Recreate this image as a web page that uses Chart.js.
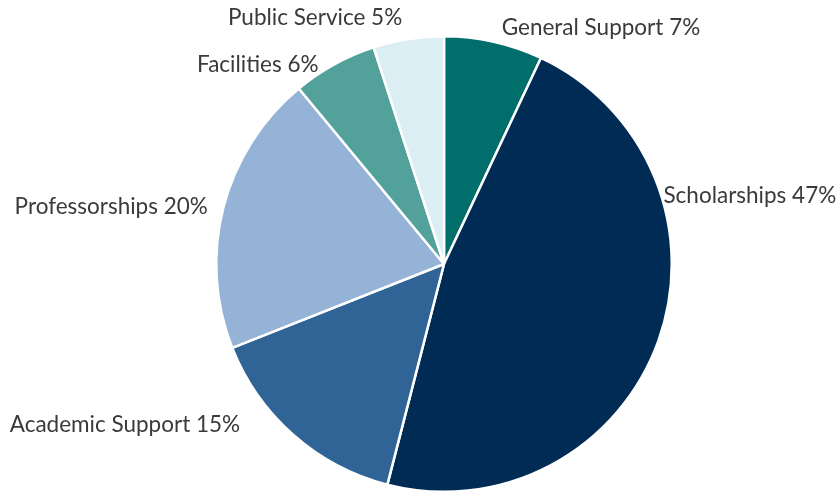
<!DOCTYPE html>
<html>
<head>
<meta charset="utf-8">
<script src="https://cdn.jsdelivr.net/npm/chart.js@4.4.0/dist/chart.umd.min.js"></script>
<style>
  html, body { margin: 0; padding: 0; background: #fff; }
  #wrap { width: 838px; height: 493px; }
</style>
</head>
<body>
<div id="wrap"><canvas id="givingPie"></canvas></div>
<script>
const categories = ["General Support", "Scholarships", "Academic Support", "Professorships", "Facilities", "Public Service"];
const shares = [7, 47, 15, 20, 6, 5];
const sliceColors = ["#006F6C", "#002B55", "#306497", "#95B3D7", "#52A29B", "#DAEEF3"];

// small nudges so the labels sit where the original put them
const labelNudge = [[5, 0], [-8, -150], [-44, -21], [-2, 3], [-9, 13], [-4, -7]];

const outsideLabels = {
  id: "outsideLabels",
  afterDatasetsDraw(chart) {
    const ctx = chart.ctx;
    const arcs = chart.getDatasetMeta(0).data;
    ctx.save();
    ctx.font = "22.5px Lato, 'Liberation Sans', sans-serif";
    ctx.fillStyle = "#3a3a3a";
    ctx.textBaseline = "middle";
    arcs.forEach((arc, i) => {
      const mid = (arc.startAngle + arc.endAngle) / 2;
      const r = arc.outerRadius + 14;
      const x = arc.x + Math.cos(mid) * r + labelNudge[i][0];
      const y = arc.y + Math.sin(mid) * r + labelNudge[i][1];
      ctx.textAlign = Math.cos(mid) >= 0 ? "left" : "right";
      ctx.fillText(categories[i] + " " + shares[i] + "%", x, y);
    });
    ctx.restore();
  }
};

new Chart(document.getElementById("givingPie").getContext("2d"), {
  type: "pie",
  data: {
    labels: categories,
    datasets: [
      {
        data: shares,
        backgroundColor: sliceColors,
        borderColor: "#ffffff",
        borderWidth: 2.5,
      },
    ],
  },
  options: {
    responsive: true,
    maintainAspectRatio: false,
    animation: false,
    layout: { padding: { top: 35, bottom: 0, left: 50, right: 0 } },
    plugins: {
      legend: { display: false },
      tooltip: { enabled: false },
    },
  },
  plugins: [outsideLabels],
});
</script>
</body>
</html>
